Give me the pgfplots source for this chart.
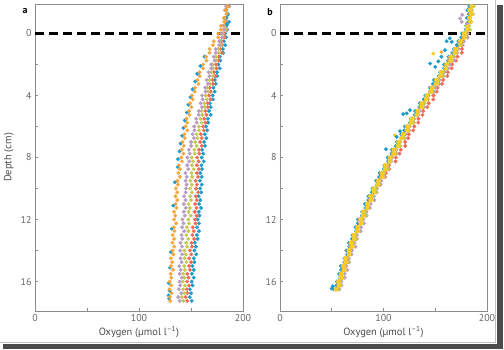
\documentclass[border=0pt]{standalone}
\usepackage{pgfplots}
\pgfplotsset{compat=1.18}
\usepackage{pgfplotstable}
\usepackage{fontspec}
\setmainfont{PT Sans}

\definecolor{cblue}{RGB}{28,156,204}
\definecolor{corange}{RGB}{247,165,60}
\definecolor{cpurple}{RGB}{184,156,196}
\definecolor{colive}{RGB}{196,200,84}
\definecolor{cred}{RGB}{240,108,84}
\definecolor{cyellow}{RGB}{250,204,40}

% panel a: depth (cm) and oxygen of five profiles
\pgfplotstableread{
d B R G P O
-1.75 186.4 186.0 185.2 183.7 185.1
-1.5 184.0 183.8 183.5 182.6 183.1
-1.25 185.4 184.4 184.5 184.5 184.2
-1 184.3 182.7 182.1 182.3 181.7
-0.75 186.5 184.2 183.4 182.9 181.9
-0.5 184.3 182.5 182.3 180.9 178.7
-0.25 184.9 184.2 183.5 181.6 178.7
0 182.9 181.7 180.5 179.1 176.3
0.25 183.8 182.1 180.4 179.9 176.2
0.5 181.6 179.2 177.9 177.2 172.0
0.75 182.9 179.9 178.6 177.1 171.1
1 180.7 178.3 176.1 173.7 167.9
1.25 180.9 179.5 176.9 173.9 167.8
1.5 177.7 176.5 174.2 171.8 164.6
1.75 178.2 176.4 174.1 172.7 164.9
2 176.3 173.9 170.7 169.5 161.7
2.25 177.7 174.6 171.3 169.4 161.6
2.5 175.0 172.1 169.5 166.9 158.2
2.75 175.1 173.2 170.9 167.6 158.4
3 172.9 170.7 168.0 165.1 156.3
3.25 173.8 171.1 168.0 166.2 157.2
3.5 171.6 168.2 165.6 163.7 154.0
3.75 172.9 168.9 166.5 163.9 153.6
4 170.7 167.3 164.1 160.7 150.9
4.25 171.1 168.7 165.3 161.2 151.6
4.5 168.2 166.0 162.9 159.3 149.1
4.75 168.9 166.1 163.3 160.5 150.4
5 167.3 163.9 160.2 157.5 148.2
5.25 168.9 164.8 160.8 157.4 148.6
5.5 166.2 162.6 159.0 154.9 145.7
5.75 166.5 163.9 160.4 155.6 146.4
6 164.4 161.7 157.5 153.1 144.8
6.25 165.5 162.3 157.6 153.3 146.4
6.5 163.3 159.4 155.4 151.5 143.7
6.75 164.8 160.3 156.3 152.9 144.0
7 162.7 158.8 154.1 150.0 141.9
7.25 163.4 160.4 155.4 150.1 143.1
7.5 160.7 157.7 153.2 147.9 141.1
7.75 161.7 158.0 153.6 148.8 142.7
8 160.3 155.9 150.7 146.6 140.7
8.25 162.2 157.3 151.9 148.3 141.3
8.5 160.0 155.6 150.8 146.4 138.4
8.75 160.6 157.4 152.7 147.3 139.3
9 158.9 155.7 150.5 144.7 137.8
9.25 160.3 156.8 151.1 145.9 139.5
9.5 158.6 154.4 149.4 144.8 137.0
9.75 160.4 155.8 150.8 145.8 137.4
10 158.7 154.8 149.1 145.1 135.4
10.25 159.8 156.9 150.9 144.9 136.8
10.5 157.4 154.7 149.2 143.4 135.1
10.75 158.8 155.5 150.1 144.8 136.9
11 157.8 153.9 147.7 143.1 135.2
11.25 159.7 155.3 148.9 144.9 136.1
11.5 157.5 153.6 147.8 143.2 133.7
11.75 158.1 155.4 149.7 144.1 134.9
12 156.4 153.7 147.5 141.7 133.8
12.25 157.7 154.4 148.0 142.8 135.7
12.5 155.8 151.7 146.1 141.5 133.5
12.75 157.6 152.7 147.5 143.4 134.1
13 155.7 151.3 145.6 141.0 132.4
13.25 156.4 153.0 147.3 141.6 133.8
13.5 153.7 150.5 145.4 139.9 132.1
13.75 154.7 150.9 146.3 141.3 133.9
14 153.3 148.9 143.7 139.6 132.2
14.25 155.1 150.2 144.9 141.6 133.1
14.5 152.7 148.3 143.8 139.9 130.7
14.75 153.3 150.1 145.7 141.0 131.9
15 151.4 148.2 143.5 138.7 130.8
15.25 152.7 149.0 144.1 140.1 132.7
15.5 150.8 146.4 142.4 139.0 130.5
15.75 152.6 147.6 143.8 141.1 131.1
16 150.7 146.3 142.1 139.0 129.4
16.25 151.5 148.2 144.1 139.6 131.0
16.5 148.9 146.0 142.4 138.3 129.3
16.75 150.1 146.6 143.5 140.6 131.3
17 148.8 144.9 141.2 137.7 129.7
17.25 150.7 146.4 142.6 139.2 130.0
}\tableA

% panel b
\pgfplotstableread{
d B R P G O Y
-1.75 182.9 186.0 185.7 187.2 184.9 185.1
-1.5 181.1 183.7 184.5 185.4 182.4 183.3
-1.25 182.4 184.2 186.3 186.2 183.5 185.0
-1 180.6 182.4 184.0 183.7 182.3 183.2
-0.75 182.2 183.6 184.4 184.7 184.0 183.9
-0.5 179.7 181.1 181.9 182.8 181.0 180.7
-0.25 179.4 181.7 182.1 183.5 180.4 180.7
0 175.7 181.7 181.1 180.0 177.4 178.3
0.25 175.2 180.9 181.2 178.9 177.1 178.5
0.5 172.3 176.7 177.7 175.4 173.6 174.5
0.75 172.2 175.9 176.6 174.8 173.4 173.1
1 168.0 175.8 172.2 171.1 169.7 169.4
1.25 166.6 175.7 171.4 170.9 168.6 168.8
1.5 162.9 171.5 168.3 167.2 164.2 165.1
1.75 162.3 170.1 168.2 166.1 163.4 164.9
2 158.6 166.4 164.0 161.7 160.3 161.2
2.25 158.4 165.8 162.6 160.9 160.2 160.1
2.5 154.7 162.1 158.9 157.8 156.0 155.7
2.75 153.4 161.7 158.1 157.5 154.4 154.7
3 148.7 157.7 154.1 153.0 150.4 151.3
3.25 147.9 156.6 153.9 151.6 149.8 151.2
3.5 144.8 152.2 150.2 147.9 146.1 147.0
3.75 144.7 151.4 149.1 147.3 145.9 145.6
4 140.5 148.3 143.7 143.6 142.2 141.9
4.25 139.0 148.1 142.8 143.3 141.0 141.2
4.5 135.1 143.7 139.5 139.4 136.4 137.3
4.75 134.5 142.3 139.4 138.3 135.6 137.1
5 130.6 138.4 135.0 133.7 132.3 133.2
5.25 130.3 137.7 133.5 132.8 132.1 132.0
5.5 126.4 133.8 129.6 129.5 127.7 127.4
5.75 125.3 133.6 129.0 129.4 126.3 126.6
6 120.7 129.7 125.1 125.0 122.4 123.3
6.25 120.1 128.8 125.1 123.8 122.0 123.4
6.5 117.0 124.4 121.4 120.1 118.3 119.2
6.75 117.1 123.8 120.5 119.7 118.3 118.0
7 113.0 120.8 116.2 116.1 114.7 114.4
7.25 111.8 120.9 115.6 116.1 113.8 114.0
7.5 108.1 116.7 112.5 112.4 109.4 110.3
7.75 107.7 115.5 112.6 111.5 108.8 110.3
8 104.1 111.9 108.5 107.2 105.8 106.7
8.25 104.3 111.7 107.5 106.8 106.1 106.0
8.5 100.9 105.3 104.1 104.0 102.2 101.9
8.75 100.3 105.6 104.0 104.4 101.3 101.6
9 96.2 102.2 100.6 100.5 97.9 98.8
9.25 95.8 101.5 100.8 99.5 97.7 99.1
9.5 93.0 97.4 97.4 96.1 94.3 95.2
9.75 93.4 97.1 96.8 96.0 94.6 94.3
10 89.5 92.3 93.7 92.6 91.2 90.9
10.25 88.6 92.7 93.4 92.9 90.6 90.8
10.5 85.4 89.0 90.8 89.7 86.7 87.6
10.75 85.3 88.1 91.2 89.1 86.4 87.9
11 82.1 84.9 87.5 85.2 83.8 84.7
11.25 82.6 85.0 86.8 85.1 84.4 84.3
11.5 79.4 81.8 83.6 82.5 80.7 80.4
11.75 79.0 82.3 83.7 83.1 80.0 80.3
12 75.2 79.2 80.6 79.5 76.9 77.8
12.25 75.2 78.9 81.2 78.9 77.1 78.5
12.5 72.8 75.2 78.2 75.9 74.1 75.0
12.75 73.5 75.2 77.9 76.1 74.7 74.4
13 70.0 72.8 74.2 73.1 71.7 71.4
13.25 69.5 73.6 74.3 73.8 71.5 71.7
13.5 66.6 70.2 72.0 70.9 67.9 68.8
13.75 67.0 69.8 72.9 70.8 68.1 69.6
14 64.1 66.9 69.5 67.2 65.8 66.7
14.25 64.9 67.3 69.1 67.4 66.7 66.6
14.5 62.2 64.6 66.4 65.3 63.5 63.2
14.75 62.1 65.4 66.8 66.2 63.1 63.4
15 58.7 62.7 64.1 63.0 60.4 61.3
15.25 59.1 62.8 65.1 62.8 61.0 62.4
15.5 57.0 59.4 62.4 60.1 58.3 59.2
15.75 58.1 59.8 62.5 60.7 59.3 59.0
16 55.0 57.8 59.2 58.1 56.7 56.4
16.25 54.6 58.7 59.4 58.9 56.6 56.8
16.5 51.9 55.5 57.3 56.2 53.2 54.1
}\tableB

\pgfplotsset{
  oxy/.style={
    scale only axis, height=307bp,
    xmin=0, xmax=200, ymin=-1.9, ymax=17.9, y dir=reverse,
    xtick={0,100,200}, minor xtick={50,150},
    ytick={0,4,8,12,16}, minor ytick={2,6,10,14},
    xtick pos=left, xticklabel pos=left,
    ytick pos=left,
    tick align=inside,
    major tick length=3bp, minor tick length=3bp,
    axis line style={black!45, line width=0.6bp},
    every tick/.style={black!45, line width=0.6bp},
    tick label style={font=\fontsize{10}{12}\selectfont, text=black!60},
    label style={font=\fontsize{10.5}{12}\selectfont, text=black!70},
    xlabel style={yshift=2bp},
    /pgf/number format/assume math mode=true,
    xlabel={Oxygen (µmol l\textsuperscript{–1})},
  },
  dots/.style={only marks, mark=*, mark size=1.75bp, mark options={draw=none}},
  zero/.style={black, line width=3bp, dash pattern=on 9bp off 5bp},
}

\begin{document}
\begin{tikzpicture}
\useasboundingbox (0,0) rectangle (504bp,350bp);
% frame with shadow
\fill[black!70] (497bp,1bp) rectangle (503bp,345bp);
\fill[black!70] (3bp,1bp) rectangle (503bp,6bp);
\draw[black!25, line width=0.6bp] (0bp,8bp) -- (495bp,8bp) -- (495bp,350bp);

\begin{axis}[oxy, at={(35bp,39bp)}, anchor=south west, width=208bp,
  ylabel={Depth (cm)}]
\addplot[dots, color=cblue] table[x=B, y=d] {\tableA};
\addplot[dots, color=cred] table[x=R, y=d] {\tableA};
\addplot[dots, color=colive] table[x=G, y=d] {\tableA};
\addplot[dots, color=cpurple] table[x=P, y=d] {\tableA};
\addplot[dots, color=cblue] coordinates {
(184.6,-0.6) (185.3,-1.2) (163,1.5) (159,2.1) (156,2.6) (154,3.1) (151.5,3.6)
(149.5,4.1) (147.5,4.6) (146,5.1) (144,5.6) (142.7,6.1) (141.5,6.6) (140,7.1)
(139,7.6) (137.5,8.1) (137.3,8.6) (134.5,9.6) (133,11.1) (131.6,12.6)
(130.5,14.1) (129.8,15.1) (128.7,16.1) (129.5,16.6) (129,17.1) (128.5,16.9)};
\addplot[dots, color=corange] table[x=O, y=d] {\tableA};
\addplot[zero] coordinates {(0,0) (200,0)};
\end{axis}

\begin{axis}[oxy, at={(280bp,39bp)}, anchor=south west, width=207bp]
\addplot[dots, color=cblue] table[x=B, y=d] {\tableB};
\addplot[dots, color=cred] table[x=R, y=d] {\tableB};
\addplot[dots, color=cpurple] table[x=P, y=d] {\tableB};
\addplot[dots, color=colive] table[x=G, y=d] {\tableB};
\addplot[dots, color=corange] table[x=O, y=d] {\tableB};
\addplot[dots, color=cyellow, mark size=2.1bp] table[x=Y, y=d] {\tableB};
\addplot[dots, color=cyellow] coordinates {(148,1.3) (111,6.56)};
\addplot[dots, color=corange] coordinates {(156,1.2)};
\addplot[dots, color=cpurple] coordinates {(174,-0.97) (175.6,-0.75) (180.4,-0.65) (176,-1.2)};
\addplot[dots, color=cblue] coordinates {
(164,0.32) (166,0.54) (170.7,0.75) (159.4,1.08) (156,1.5) (153,1.8) (145,1.94)
(150,2.15) (161,0.5) (125.6,4.95) (122.4,5.15) (119,5.2) (116,6.3) (112.7,6.67)
(102.4,7.46) (50,16.45) (51,16.3)};
\addplot[zero] coordinates {(0,0) (200,0)};
\end{axis}

\node[font=\bfseries\fontsize{10}{12}\selectfont] at (25bp,339bp) {a};
\node[font=\bfseries\fontsize{10}{12}\selectfont] at (270bp,338bp) {b};
\end{tikzpicture}
\end{document}
